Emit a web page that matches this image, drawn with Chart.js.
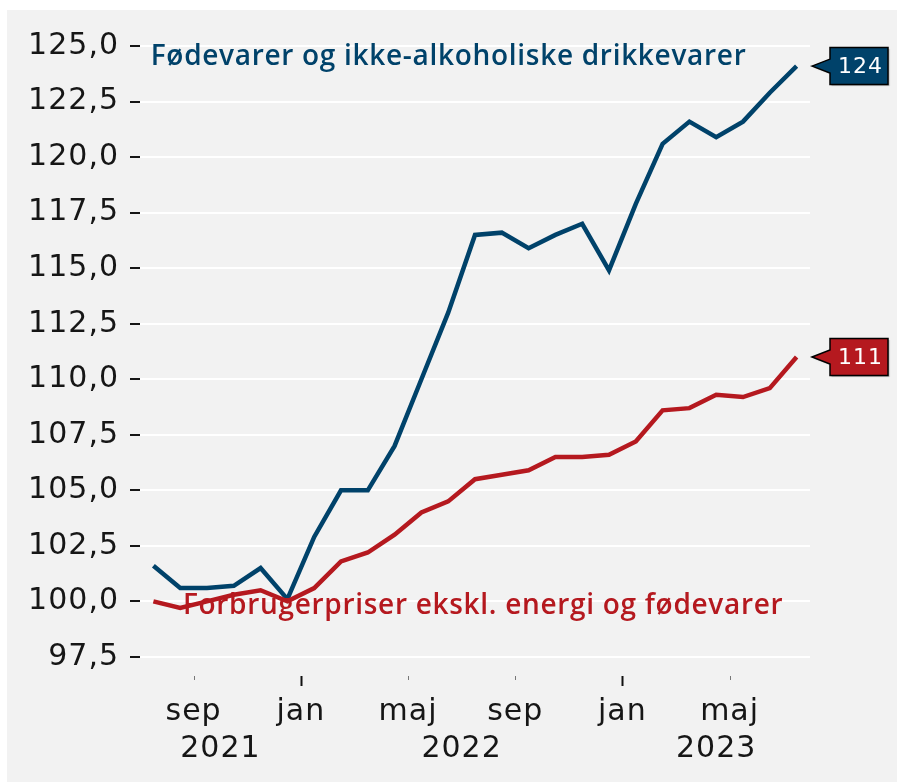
<!DOCTYPE html>
<html lang="da">
<head>
<meta charset="utf-8">
<title>Fødevarepriser og kerneinflation</title>
<script src="https://cdn.jsdelivr.net/npm/chart.js@4/dist/chart.umd.min.js"></script>
<style>
  html, body { margin: 0; padding: 0; background: #ffffff; }
  #wrap { width: 897px; height: 782px; }
  canvas { display: block; }
</style>
</head>
<body>
<div id="wrap"><canvas id="chart" width="897" height="782"></canvas></div>
<script>
// Månedlige indeks, juli 2021 = ca. 100
const periods = [
  '2021-07', '2021-08', '2021-09', '2021-10', '2021-11', '2021-12',
  '2022-01', '2022-02', '2022-03', '2022-04', '2022-05', '2022-06',
  '2022-07', '2022-08', '2022-09', '2022-10', '2022-11', '2022-12',
  '2023-01', '2023-02', '2023-03', '2023-04', '2023-05', '2023-06', '2023-07'
];
const foodIndex = [
  101.6, 100.6, 100.6, 100.7, 101.5, 100.1,
  102.9, 105.0, 105.0, 107.0, 110.0, 113.0,
  116.5, 116.6, 115.9, 116.5, 117.0, 114.9,
  117.9, 120.6, 121.6, 120.9, 121.6, 122.9, 124.1
];
const coreIndex = [
  100.0, 99.7, 100.0, 100.3, 100.5, 100.0,
  100.6, 101.8, 102.2, 103.0, 104.0, 104.5,
  105.5, 105.7, 105.9, 106.5, 106.5, 106.6,
  107.2, 108.6, 108.7, 109.3, 109.2, 109.6, 111.0
];
const foodName = 'Fødevarer og ikke-alkoholiske drikkevarer';
const coreName = 'Forbrugerpriser ekskl. energi og fødevarer';

// Akser: måneder tælles fra januar 2021 = 0
const yTicks = [97.5, 100, 102.5, 105, 107.5, 110, 112.5, 115, 117.5, 120, 122.5, 125];
const monthTickValues = [8, 12, 16, 20, 24, 28];
const monthTickLabels = ['sep', 'jan', 'maj', 'sep', 'jan', 'maj'];
const yearTickValues = [9, 18, 27.5];
const yearTickLabels = ['2021', '2022', '2023'];

const BLUE = '#00426a';
const RED = '#b5191f';
const INK = '#161616';
const AXIS_FONT = 'DejaVu Sans';
const NAME_FONT = '600 28px "Open Sans"';

function periodToX(p) {
  const [y, m] = p.split('-').map(Number);
  return (y - 2021) * 12 + (m - 1) + 0.5;
}
const foodPoints = periods.map((p, i) => ({ x: periodToX(p), y: foodIndex[i] }));
const corePoints = periods.map((p, i) => ({ x: periodToX(p), y: coreIndex[i] }));

// Grå baggrund bag hele figuren; lidt luft mellem bogstaverne i aksetekster
const backdrop = {
  id: 'backdrop',
  beforeDraw(chart) {
    const ctx = chart.ctx;
    ctx.save();
    ctx.fillStyle = '#f2f2f2';
    ctx.fillRect(7, 10, chart.width - 7, chart.height - 10);
    ctx.restore();
    ctx.letterSpacing = '1px';
  }
};

// Små streger ved månederne; januar markeres længere
const monthMarks = {
  id: 'monthMarks',
  afterDraw(chart) {
    const ctx = chart.ctx;
    const xs = chart.scales.x;
    const top = chart.chartArea.bottom + 8;
    ctx.save();
    monthTickValues.forEach((v, i) => {
      const px = Math.round(xs.getPixelForValue(v)) + 0.5;
      const major = monthTickLabels[i] === 'jan';
      ctx.strokeStyle = major ? '#111111' : '#777777';
      ctx.lineWidth = major ? 2 : 1;
      ctx.beginPath();
      ctx.moveTo(px, top);
      ctx.lineTo(px, top + (major ? 10 : 4));
      ctx.stroke();
    });
    ctx.restore();
  }
};

// Serienavne direkte i plottet
const seriesNames = {
  id: 'seriesNames',
  afterDatasetsDraw(chart) {
    const ctx = chart.ctx;
    const xs = chart.scales.x, ys = chart.scales.y;
    ctx.save();
    ctx.font = NAME_FONT;
    ctx.letterSpacing = '0.7px';
    ctx.textAlign = 'left';
    ctx.textBaseline = 'alphabetic';
    ctx.fillStyle = BLUE;
    ctx.fillText(foodName, xs.getPixelForValue(6.4), ys.getPixelForValue(124.15));
    ctx.fillStyle = RED;
    ctx.fillText(coreName, xs.getPixelForValue(7.6), ys.getPixelForValue(99.45));
    ctx.restore();
  }
};

// Mærkater med seneste værdi til højre for linjerne
const endBadges = {
  id: 'endBadges',
  afterDraw(chart) {
    const ctx = chart.ctx;
    const ys = chart.scales.y;
    const tip = chart.chartArea.right + 2;
    const left = tip + 18, right = left + 58, half = 18.5, notch = 7;
    ctx.save();
    chart.data.datasets.forEach(ds => {
      const last = ds.data[ds.data.length - 1];
      const y = ys.getPixelForValue(last.y);
      ctx.beginPath();
      ctx.moveTo(tip, y);
      ctx.lineTo(left, y - notch);
      ctx.lineTo(left, y - half);
      ctx.lineTo(right, y - half);
      ctx.lineTo(right, y + half);
      ctx.lineTo(left, y + half);
      ctx.lineTo(left, y + notch);
      ctx.closePath();
      ctx.shadowColor = 'rgba(0,0,0,0.25)';
      ctx.shadowOffsetX = 1.5;
      ctx.shadowOffsetY = 1.5;
      ctx.shadowBlur = 1;
      ctx.fillStyle = ds.borderColor;
      ctx.fill();
      ctx.shadowColor = 'transparent';
      ctx.lineWidth = 1.5;
      ctx.strokeStyle = '#000000';
      ctx.stroke();
      ctx.fillStyle = '#ffffff';
      ctx.font = '22px ' + AXIS_FONT;
      ctx.letterSpacing = '1px';
      ctx.textAlign = 'center';
      ctx.textBaseline = 'middle';
      ctx.fillText(String(Math.round(last.y)), (left + right) / 2 + 1.5, y + 1);
    });
    ctx.restore();
  }
};

new Chart(document.getElementById('chart'), {
  type: 'line',
  data: {
    datasets: [
      {
        label: coreName,
        data: corePoints,
        borderColor: RED,
        backgroundColor: RED,
        borderWidth: 4.5,
        pointRadius: 0,
        tension: 0
      },
      {
        label: foodName,
        data: foodPoints,
        borderColor: BLUE,
        backgroundColor: BLUE,
        borderWidth: 4.5,
        pointRadius: 0,
        tension: 0
      }
    ]
  },
  options: {
    responsive: false,
    animation: false,
    devicePixelRatio: 1,
    layout: { padding: { top: 35, right: 87, left: 0, bottom: 0 } },
    plugins: {
      legend: { display: false },
      tooltip: { enabled: false },
      title: { display: false }
    },
    scales: {
      x: {
        type: 'linear',
        min: 6,
        max: 31,
        position: 'bottom',
        afterBuildTicks(scale) { scale.ticks = monthTickValues.map(v => ({ value: v })); },
        afterFit(scale) { scale.height = 60; },
        grid: { display: false },
        border: { display: false },
        ticks: {
          autoSkip: false,
          maxRotation: 0,
          padding: 21,
          color: INK,
          font: { family: AXIS_FONT, size: 30, lineHeight: 1 },
          callback: (v, i) => monthTickLabels[i]
        }
      },
      x2: {
        type: 'linear',
        min: 6,
        max: 31,
        position: 'bottom',
        afterBuildTicks(scale) { scale.ticks = yearTickValues.map(v => ({ value: v })); },
        afterFit(scale) { scale.height = 54; },
        grid: { display: false },
        border: { display: false },
        ticks: {
          autoSkip: false,
          maxRotation: 0,
          padding: -2,
          color: INK,
          font: { family: AXIS_FONT, size: 30, lineHeight: 1 },
          callback: (v, i) => yearTickLabels[i]
        }
      },
      y: {
        type: 'linear',
        min: 97,
        max: 125.5,
        afterBuildTicks(scale) { scale.ticks = yTicks.map(v => ({ value: v })); },
        afterFit(scale) { scale.width = 140; },
        border: { display: false },
        grid: {
          color: '#ffffff',
          lineWidth: 2,
          drawTicks: true,
          tickLength: 10,
          tickColor: INK,
          tickWidth: 2
        },
        ticks: {
          padding: 11,
          color: INK,
          font: { family: AXIS_FONT, size: 30 },
          callback: v => v.toFixed(1).replace('.', ',')
        }
      }
    }
  },
  plugins: [backdrop, monthMarks, seriesNames, endBadges]
});
</script>
</body>
</html>
